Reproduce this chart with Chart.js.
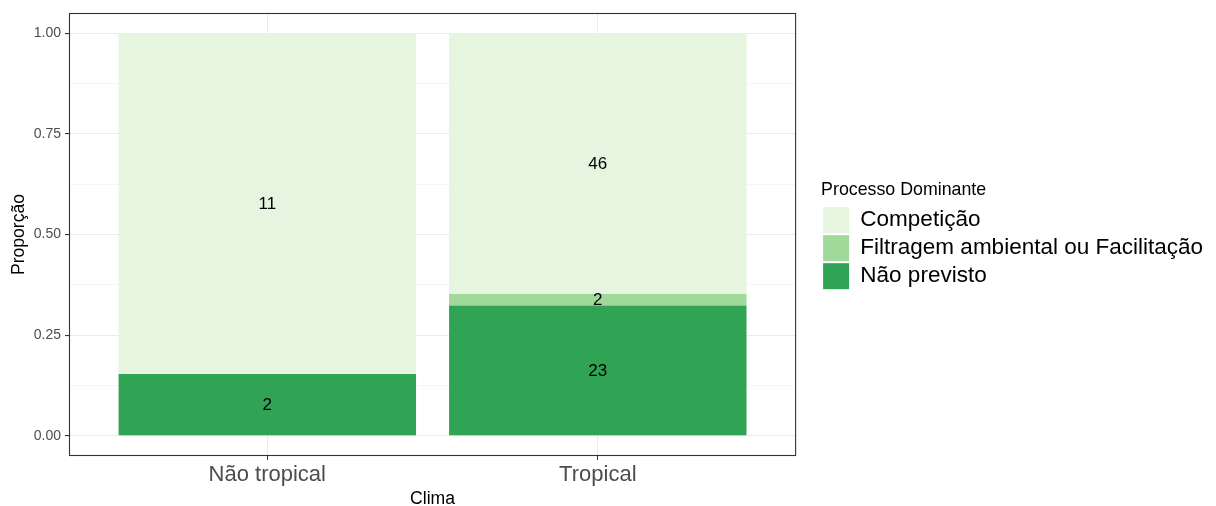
<!DOCTYPE html>
<html>
<head>
<meta charset="utf-8">
<title>Processo Dominante por Clima</title>
<script src="https://cdn.jsdelivr.net/npm/chart.js@4/dist/chart.umd.min.js"></script>
<style>
  html, body { margin: 0; padding: 0; background: #ffffff; }
  #wrap { width: 1216px; height: 506px; position: relative; }
</style>
</head>
<body>
<div id="wrap"><canvas id="grafico"></canvas></div>
<script>
// Dados (contagens por clima)
const climas = ['Não tropical', 'Tropical'];
const processos = ['Não previsto', 'Filtragem ambiental ou Facilitação', 'Competição'];
const naoPrevisto = [2, 23];
const filtragem = [0, 2];
const competicao = [11, 46];
const yTicks = [0, 0.125, 0.25, 0.375, 0.5, 0.625, 0.75, 0.875, 1];

const cores = ['#31A354', '#A1D99B', '#E5F5E0'];
const contagens = [naoPrevisto, filtragem, competicao];
const totais = climas.map((c, i) => contagens.reduce((s, arr) => s + arr[i], 0));

const FONTE = "'Liberation Sans', Arial, sans-serif";
Chart.defaults.font.family = FONTE;

const isMajor = v => Math.abs(v * 4 - Math.round(v * 4)) < 1e-9;

// rótulos de contagem no meio de cada segmento
const rotulosPlugin = {
    id: 'rotulos',
    afterDatasetsDraw(chart) {
        const ctx = chart.ctx;
        ctx.save();
        ctx.font = '17px ' + FONTE;
        ctx.fillStyle = '#000000';
        ctx.textAlign = 'center';
        ctx.textBaseline = 'middle';
        chart.data.datasets.forEach((ds, d) => {
            chart.getDatasetMeta(d).data.forEach((el, i) => {
                const n = contagens[d][i];
                if (!n) return;
                ctx.fillText(String(n), el.x, (el.y + el.base) / 2 + 1);
            });
        });
        ctx.restore();
    }
};

// borda do painel (theme_bw)
const bordaPlugin = {
    id: 'borda',
    afterDraw(chart) {
        const a = chart.chartArea;
        const ctx = chart.ctx;
        ctx.save();
        ctx.strokeStyle = '#333333';
        ctx.lineWidth = 1.1;
        ctx.strokeRect(a.left + 0.5, a.top + 0.5, a.right - a.left - 1, a.bottom - a.top - 1);
        ctx.restore();
    }
};

// a legenda à direita não deve ser limitada a metade da largura
const legendaLarguraPlugin = {
    id: 'legendaLargura',
    beforeLayout(chart) {
        const lg = chart.legend;
        if (!lg || lg._fitLivre) return;
        const fitOrig = lg.fit;
        lg.fit = function () {
            this.maxWidth = 2000;
            fitOrig.call(this);
        };
        lg._fitLivre = true;
    }
};

new Chart(document.getElementById('grafico'), {
    type: 'bar',
    data: {
        datasets: processos.map((p, d) => ({
            label: p,
            data: climas.map((c, i) => ({ x: i + 1, y: contagens[d][i] / totais[i] })),
            backgroundColor: cores[d],
            borderWidth: 0,
            barPercentage: 0.9,
            categoryPercentage: 1
        }))
    },
    plugins: [legendaLarguraPlugin, rotulosPlugin, bordaPlugin],
    options: {
        responsive: true,
        maintainAspectRatio: false,
        animation: false,
        layout: { padding: { left: 0, right: 3, top: 13, bottom: 0 } },
        plugins: {
            tooltip: { enabled: false },
            legend: {
                position: 'right',
                fullSize: false,
                reverse: true,
                title: {
                    display: true,
                    text: 'Processo Dominante',
                    color: '#000000',
                    position: 'start',
                    font: { size: 17.8 },
                    padding: { top: 3, bottom: 3 }
                },
                labels: {
                    boxWidth: 26,
                    boxHeight: 26,
                    padding: 2,
                    color: '#000000',
                    font: { size: 22.5 }
                }
            }
        },
        scales: {
            x: {
                type: 'linear',
                stacked: true,
                offset: false,
                min: 0.4,
                max: 2.6,
                afterBuildTicks: s => { s.ticks = climas.map((c, i) => ({ value: i + 1 })); },
                afterFit: s => { s.height = 50; },
                border: { display: false },
                grid: { offset: false, color: '#EBEBEB', lineWidth: 1, tickColor: '#333333', tickLength: 4 },
                ticks: {
                    autoSkip: false,
                    maxRotation: 0,
                    padding: 2,
                    color: '#4D4D4D',
                    font: { size: 22 },
                    callback: v => climas[Math.round(v) - 1]
                },
                title: {
                    display: true,
                    text: 'Clima',
                    color: '#000000',
                    font: { size: 17.6 },
                    padding: { top: 0, bottom: -4 }
                }
            },
            y: {
                stacked: true,
                min: -0.05,
                max: 1.05,
                afterBuildTicks: s => { s.ticks = yTicks.map(v => ({ value: v })); },
                afterFit: s => { s.width = 69; },
                border: { display: false },
                grid: {
                    color: c => isMajor(c.tick.value) ? '#EBEBEB' : '#F2F2F2',
                    lineWidth: c => isMajor(c.tick.value) ? 1.1 : 0.8,
                    tickColor: c => isMajor(c.tick.value) ? '#333333' : 'rgba(0,0,0,0)',
                    tickLength: 4
                },
                ticks: {
                    autoSkip: false,
                    padding: 4,
                    color: '#4D4D4D',
                    font: { size: 14 },
                    callback: v => isMajor(v) ? v.toFixed(2) : ''
                },
                title: {
                    display: true,
                    text: 'Proporção',
                    color: '#000000',
                    font: { size: 17.6 },
                    padding: { top: 9, bottom: 0 }
                }
            },
            // espaço entre o painel e a legenda
            espaco: {
                type: 'linear',
                position: 'right',
                afterFit: s => { s.width = 25; },
                border: { display: false },
                grid: { display: false },
                ticks: { display: false }
            }
        }
    }
});
</script>
</body>
</html>
